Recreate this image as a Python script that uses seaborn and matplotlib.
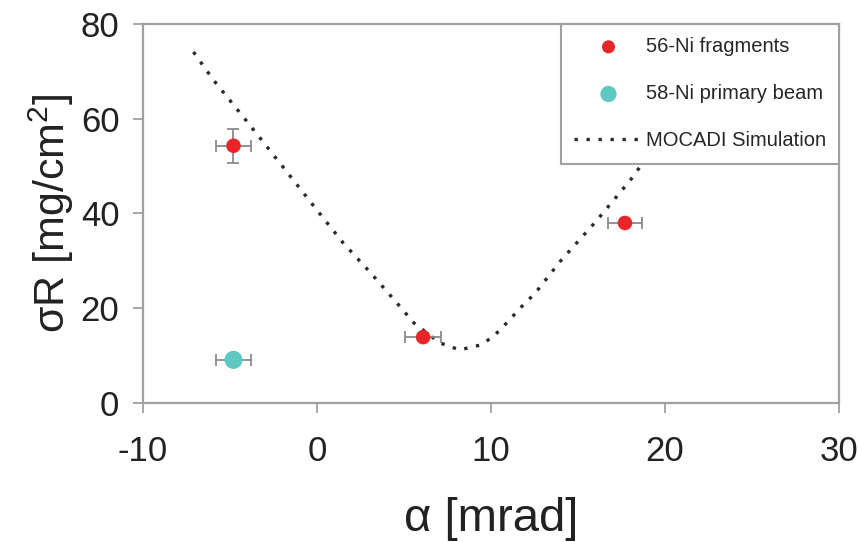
import numpy as np
import pandas as pd
import matplotlib
matplotlib.use("Agg")
import matplotlib.pyplot as plt
import seaborn as sns

# data
frag_alpha = [-4.8, 6.1, 17.7]
frag_sigma = [54.3, 13.9, 38.0]
frag_xerr = [1.0, 1.05, 1.0]
frag_yerr = [3.6, 0.0, 0.0]

beam_alpha = [-4.8]
beam_sigma = [9.1]
beam_xerr = [1.0]

sim_alpha = [-7.1, -6.0, -4.0, -2.9, -1.95, 0.0, 1.5, 3.05, 4.95, 5.5, 7.05,
             8.2, 9.35, 10.1, 10.9, 11.95, 12.5, 14.0, 16.0, 18.0, 18.85, 20.0]
sim_sigma = [74.1, 68.4, 59.3, 54.2, 49.8, 40.7, 33.8, 27.6, 19.6, 17.1, 12.7,
             11.2, 12.2, 13.9, 16.9, 21.1, 23.0, 30.0, 38.2, 47.0, 51.3, 56.0]

x_ticks = [-10, 0, 10, 20, 30]
y_ticks = [0, 20, 40, 60, 80]

sns.set_style("white")
plt.rcParams["font.family"] = ["Liberation Sans", "DejaVu Sans"]
plt.rcParams["mathtext.fontset"] = "custom"
plt.rcParams["mathtext.rm"] = "Liberation Sans"
plt.rcParams["mathtext.it"] = "Liberation Sans"

frame_col = "#a0a0a0"
red = "#e8262a"
cyan = "#5ec8c2"

fig = plt.figure(figsize=(8.59, 5.42), dpi=100)
ax = fig.add_axes([0.1665, 0.2565, 0.8102, 0.6992])

sim = pd.DataFrame({"alpha": sim_alpha, "sigma": sim_sigma})
sns.lineplot(data=sim, x="alpha", y="sigma", ax=ax, color="#2a2a2a",
             linewidth=2.4, linestyle=(0, (1, 2.6)), sort=False,
             label="MOCADI Simulation", zorder=2)

ax.errorbar(frag_alpha, frag_sigma, xerr=frag_xerr, yerr=frag_yerr, fmt="none",
            ecolor="#8a8a8a", elinewidth=1.3, capsize=4.5, capthick=1.3, zorder=3)
ax.errorbar(beam_alpha, beam_sigma, xerr=beam_xerr, fmt="none",
            ecolor="#8a8a8a", elinewidth=1.3, capsize=4.5, capthick=1.3, zorder=3)

frag = pd.DataFrame({"alpha": frag_alpha, "sigma": frag_sigma})
beam = pd.DataFrame({"alpha": beam_alpha, "sigma": beam_sigma})
sns.scatterplot(data=frag, x="alpha", y="sigma", ax=ax, color=red, s=110,
                edgecolor="none", label="56-Ni fragments", zorder=4)
sns.scatterplot(data=beam, x="alpha", y="sigma", ax=ax, color=cyan, s=170,
                edgecolor="none", label="58-Ni primary beam", zorder=4)

ax.set_xlim(-10, 30)
ax.set_ylim(0, 80)
ax.set_xticks(x_ticks)
ax.set_yticks(y_ticks)
ax.set_xticklabels([str(t) for t in x_ticks])
ax.tick_params(axis="both", direction="out", length=7, width=1.3,
               color=frame_col, labelsize=25, labelcolor="#222222",
               bottom=True, left=True)
ax.tick_params(axis="x", pad=16)
ax.tick_params(axis="y", pad=10)
for s in ax.spines.values():
    s.set_color(frame_col)
    s.set_linewidth(1.6)

ax.set_xlabel("α [mrad]", fontsize=34, color="#222222", labelpad=21)
ax.set_ylabel("σR [mg/cm$^2$]", fontsize=31, color="#222222", labelpad=3)

# legend order: fragments, beam, simulation
h, l = ax.get_legend_handles_labels()
order = [l.index("56-Ni fragments"), l.index("58-Ni primary beam"),
         l.index("MOCADI Simulation")]
leg = ax.legend([h[i] for i in order], [l[i] for i in order],
                loc="upper right", bbox_to_anchor=(1, 1), borderaxespad=0,
                fontsize=14.5, frameon=True, fancybox=False, framealpha=1,
                edgecolor=frame_col, borderpad=0.65, labelspacing=1.4,
                handlelength=3.4, handletextpad=0.15, markerscale=0.9)
leg.get_frame().set_linewidth(1.5)
leg.set_zorder(10)

fig.savefig("out.png", dpi=100)
